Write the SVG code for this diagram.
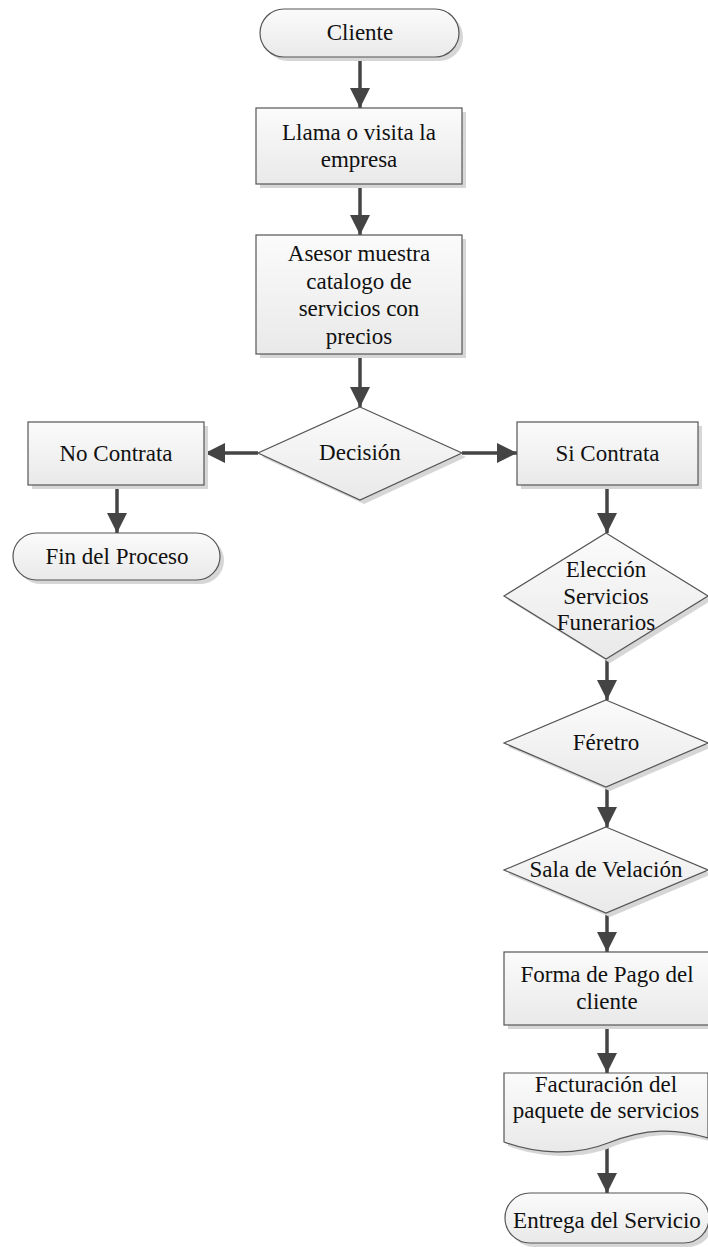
<svg xmlns="http://www.w3.org/2000/svg" xmlns:xlink="http://www.w3.org/1999/xlink" width="708" height="1247" viewBox="0 0 708 1247">
<style>
.shape{fill:url(#g);stroke:#555;stroke-width:1.2}
.sh{fill:#d6d6d6;stroke:none}
.t{font-family:"Liberation Serif","Times New Roman",serif;font-size:23px;fill:#111;text-anchor:middle}
.c{stroke:#444;stroke-width:3.5;fill:none;marker-end:url(#ah)}
</style>
<defs>
<linearGradient id="g" x1="0" y1="0" x2="0" y2="1">
<stop offset="0" stop-color="#fbfbfb"/>
<stop offset="1" stop-color="#e9e9e9"/>
</linearGradient>
<marker id="ah" markerUnits="userSpaceOnUse" markerWidth="20" markerHeight="20" viewBox="0 0 20 20" refX="20" refY="10" orient="auto">
<path d="M0,0 L20,10 L0,20 Z" fill="#444"/>
</marker>
</defs>
<rect width="708" height="1247" fill="#fff"/>

<g id="connectors">
<line class="c" x1="360" y1="57" x2="360" y2="108"/>
<line class="c" x1="360" y1="184" x2="360" y2="235"/>
<line class="c" x1="360" y1="354" x2="360" y2="407"/>
<line class="c" x1="258" y1="453" x2="205" y2="453"/>
<line class="c" x1="462" y1="453" x2="517" y2="453"/>
<line class="c" x1="117" y1="485" x2="117" y2="533"/>
<line class="c" x1="607" y1="485" x2="607" y2="533"/>
<line class="c" x1="607" y1="659" x2="607" y2="700"/>
<line class="c" x1="607" y1="787" x2="607" y2="827"/>
<line class="c" x1="607" y1="913" x2="607" y2="952"/>
<line class="c" x1="607" y1="1025" x2="607" y2="1073"/>
<line class="c" x1="607" y1="1145" x2="607" y2="1193"/>
</g>

<g id="cliente">
<rect class="sh" x="264" y="13" width="199" height="48" rx="24"/>
<rect class="shape" x="260" y="9" width="199" height="48" rx="24"/>
<text class="t" x="360" y="40">Cliente</text>
</g>

<g id="llama">
<rect class="sh" x="260" y="112" width="206" height="76"/>
<rect class="shape" x="256" y="108" width="206" height="76"/>
<text class="t" x="359" y="140">Llama o visita la</text>
<text class="t" x="359" y="167">empresa</text>
</g>

<g id="asesor">
<rect class="sh" x="260" y="239" width="206" height="119"/>
<rect class="shape" x="256" y="235" width="206" height="119"/>
<text class="t" x="359" y="261">Asesor muestra</text>
<text class="t" x="359" y="288.5">catalogo de</text>
<text class="t" x="359" y="316">servicios con</text>
<text class="t" x="359" y="343.5">precios</text>
</g>

<g id="decision">
<polygon class="sh" points="364,411 466,457 364,504 262,457"/>
<polygon class="shape" points="360,407 462,453 360,500 258,453"/>
<text class="t" x="360" y="460">Decisión</text>
</g>

<g id="no-contrata">
<rect class="sh" x="32" y="426" width="176" height="63"/>
<rect class="shape" x="28" y="422" width="176" height="63"/>
<text class="t" x="116" y="461">No Contrata</text>
</g>

<g id="fin">
<rect class="sh" x="17" y="537" width="207" height="47" rx="23.5"/>
<rect class="shape" x="13" y="533" width="207" height="47" rx="23.5"/>
<text class="t" x="117" y="564">Fin del Proceso</text>
</g>

<g id="si-contrata">
<rect class="sh" x="521" y="426" width="181" height="63"/>
<rect class="shape" x="517" y="422" width="181" height="63"/>
<text class="t" x="607.5" y="461">Si Contrata</text>
</g>

<g id="eleccion">
<polygon class="sh" points="610,537 712,600 610,663 508,600"/>
<polygon class="shape" points="606,533 708,596 606,659 504,596"/>
<text class="t" x="606" y="577">Elección</text>
<text class="t" x="606" y="603.5">Servicios</text>
<text class="t" x="606" y="630">Funerarios</text>
</g>

<g id="feretro">
<polygon class="sh" points="610,704 712,747 610,791 508,747"/>
<polygon class="shape" points="606,700 708,743 606,787 504,743"/>
<text class="t" x="606" y="750">Féretro</text>
</g>

<g id="sala">
<polygon class="sh" points="610,831 712,874 610,917 508,874"/>
<polygon class="shape" points="606,827 708,870 606,913 504,870"/>
<text class="t" x="606" y="877">Sala de Velación</text>
</g>

<g id="forma-pago">
<rect class="sh" x="508" y="956" width="206" height="73"/>
<rect class="shape" x="504" y="952" width="206" height="73"/>
<text class="t" x="607" y="982">Forma de Pago del</text>
<text class="t" x="607" y="1009">cliente</text>
</g>

<g id="facturacion">
<path class="sh" d="M508,1077 H712 V1142 C680,1132 650,1132 612,1147 C580,1160 540,1158 508,1146 Z"/>
<path class="shape" d="M504,1073 H708 V1138 C676,1128 646,1128 608,1143 C576,1156 536,1154 504,1142 Z"/>
<text class="t" x="606" y="1092">Facturación del</text>
<text class="t" x="606" y="1118">paquete de servicios</text>
</g>

<g id="entrega">
<rect class="sh" x="509" y="1197" width="204" height="50" rx="25"/>
<rect class="shape" x="505" y="1193" width="204" height="50" rx="25"/>
<text class="t" x="607" y="1228">Entrega del Servicio</text>
</g>
</svg>
